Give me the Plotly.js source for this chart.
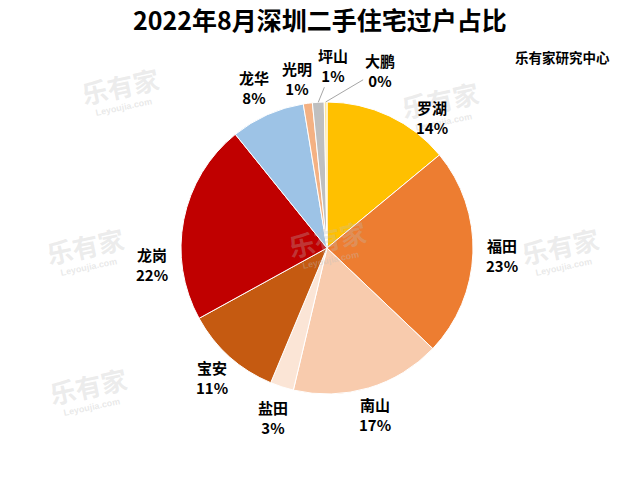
<!DOCTYPE html>
<html>
<head>
<meta charset="utf-8">
<script src="https://cdn.plot.ly/plotly-3.0.1.min.js"></script>
<style>html,body{margin:0;padding:0;background:#fff;}#chart{width:640px;height:484px;}</style>
</head>
<body>
<div id="chart"></div>
<script>
const districts = ["罗湖","福田","南山","盐田","宝安","龙岗","龙华","光明","坪山","大鹏"];
const shares = [14.0, 23.1, 16.6, 2.6, 10.7, 22.2, 8.2, 1.0, 1.3, 0.3];
const sliceColors = ["#FFC000","#ED7D31","#F8CBAD","#FBE5D6","#C55A11","#C00000","#9DC3E6","#F4B183","#BFBFBF","#FFE699"];
const titleText = "2022年8月深圳二手住宅过户占比";
const sourceText = "乐有家研究中心";

// label placement (pixel offsets from the slice's rim midpoint) and leader-line flags
const labelOffsets = [[43,2],[29,2],[6,27],[-9,31],[-17,21],[-32,45],[-13,-27],[-11,-25],[15,-37],[54,-32]];
const leaderLine = [false,false,false,false,false,false,false,false,true,true];
const watermarkSpots = [[85,245],[327,238],[560,245],[88,385],[120,85],[440,100]];

const font = "'Noto Sans CJK SC', 'Microsoft YaHei', sans-serif";
const W = 640, H = 484;
const margin = {l: 100, r: 86, t: 102, b: 90};
const pw = W - margin.l - margin.r, ph = H - margin.t - margin.b;
const cx = margin.l + pw / 2, cy = margin.t + ph / 2, R = Math.min(pw, ph) / 2;
const px2x = px => (px - margin.l) / pw;
const py2y = py => (H - margin.b - py) / ph;

const trace = {
  type: "pie",
  labels: districts,
  values: shares,
  sort: false,
  direction: "clockwise",
  rotation: 0,
  marker: {colors: sliceColors, line: {color: "#ffffff", width: 1}},
  textinfo: "none",
  hoverinfo: "none",
  automargin: false,
  showlegend: false
};

const annotations = [];

// watermarks
watermarkSpots.forEach(p => {
  annotations.push({
    xref: "paper", yref: "paper", x: px2x(p[0]), y: py2y(p[1]), xanchor: "center", yanchor: "middle",
    showarrow: false, text: "<b>乐有家</b>", textangle: -12,
    font: {family: font, size: 26, color: "rgba(190,190,190,0.30)"}
  });
  annotations.push({
    xref: "paper", yref: "paper", x: px2x(p[0] + 4), y: py2y(p[1] + 22), xanchor: "center", yanchor: "middle",
    showarrow: false, text: "<b>Leyoujia.com</b>", textangle: -12,
    font: {family: "Arial, sans-serif", size: 9, color: "rgba(190,190,190,0.35)"}
  });
});

// data labels derived from the share values
const total = shares.reduce((a, b) => a + b, 0);
let cum = 0;
shares.forEach((v, i) => {
  const mid = (cum + v / 2) / total * 2 * Math.PI;
  cum += v;
  const rx = cx + R * Math.sin(mid), ry = cy - R * Math.cos(mid);
  const pct = Math.round(v / total * 100) + "%";
  const txt = "<b>" + districts[i] + "<br>" + pct + "</b>";
  const off = labelOffsets[i];
  const base = {
    xref: "paper", yref: "paper", x: px2x(rx), y: py2y(ry),
    text: txt, align: "center",
    font: {family: font, size: 15, color: "#000000"}
  };
  if (leaderLine[i]) {
    Object.assign(base, {showarrow: true, arrowhead: 0, arrowwidth: 1, arrowcolor: "#A6A6A6",
      ax: off[0], ay: off[1], standoff: 0, startstandoff: 0});
  } else {
    Object.assign(base, {showarrow: false, xanchor: "center", yanchor: "middle",
      xshift: off[0], yshift: -off[1]});
  }
  annotations.push(base);
});

annotations.push({
  xref: "paper", yref: "paper", x: px2x(612), y: py2y(57),
  xanchor: "right", yanchor: "middle", showarrow: false,
  text: "<b>" + sourceText + "</b>", font: {family: font, size: 13.5, color: "#000000"}
});

const layout = {
  width: W, height: H,
  paper_bgcolor: "#ffffff", plot_bgcolor: "#ffffff",
  margin: margin,
  title: {text: "<b>" + titleText + "</b>", x: 0.5, xanchor: "center",
          y: 1 - 21 / H, yanchor: "middle",
          font: {family: font, size: 25, color: "#000000"}},
  annotations: annotations
};

Plotly.newPlot("chart", [trace], layout, {displayModeBar: false, staticPlot: true});
</script>
</body>
</html>
